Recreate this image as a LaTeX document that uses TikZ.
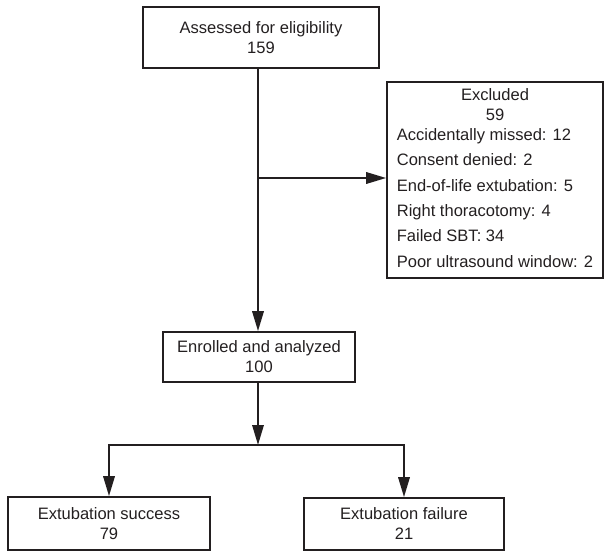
\documentclass[tikz,border=0pt]{standalone}
\usepackage{fontspec}
\setmainfont{Liberation Sans}
\usepackage{xcolor}
\usetikzlibrary{arrows.meta}
\definecolor{ink}{HTML}{231F20}

\begin{document}
\begin{tikzpicture}[x=0.75pt, y=-0.75pt,
  box/.style={rectangle, draw=ink, line width=1.2pt, align=center, inner sep=0pt,
    font=\fontsize{12.4}{15}\selectfont, text=ink},
  flow/.style={draw=ink, line width=1.7pt, -{Triangle[length=15pt,width=8.5pt]}}]
\useasboundingbox (0,0) rectangle (606,552);

% Nodes
\node (assessed) [box, minimum width=177pt, minimum height=45.75pt] at (261,37.5) {Assessed for eligibility\\159};
\node (excluded) [box, minimum width=162pt, minimum height=147pt] at (495,180)
  {\begin{tabular}{@{}l@{}}
   \multicolumn{1}{@{}c@{}}{Excluded}\\
   \multicolumn{1}{@{}c@{}}{59}\\
   Accidentally missed: 12\\[4pt]
   Consent denied: 2\\[4pt]
   End-of-life extubation: 5\\[4pt]
   Right thoracotomy: 4\\[4pt]
   Failed SBT: 34\\[4pt]
   Poor ultrasound window: 2
   \end{tabular}};
\node (enrolled) [box, minimum width=144pt, minimum height=37.5pt] at (259,357) {Enrolled and analyzed\\100};
\node (success) [box, minimum width=151.5pt, minimum height=39.75pt] at (109,523.5) {Extubation success\\79};
\node (failure) [box, minimum width=150pt, minimum height=39pt] at (404,524) {Extubation failure\\21};

\coordinate (branch) at (258,178);
\coordinate (split) at (258,445);

% Arrows
\draw[flow] (branch |- assessed.south) -- (branch |- enrolled.north);
\draw[flow] (branch) -- (branch -| excluded.west);
\draw[flow] (split |- enrolled.south) -- (split);
\draw[flow] (split) -| (success.north);
\draw[flow] (split) -| (failure.north);

\end{tikzpicture}
\end{document}
